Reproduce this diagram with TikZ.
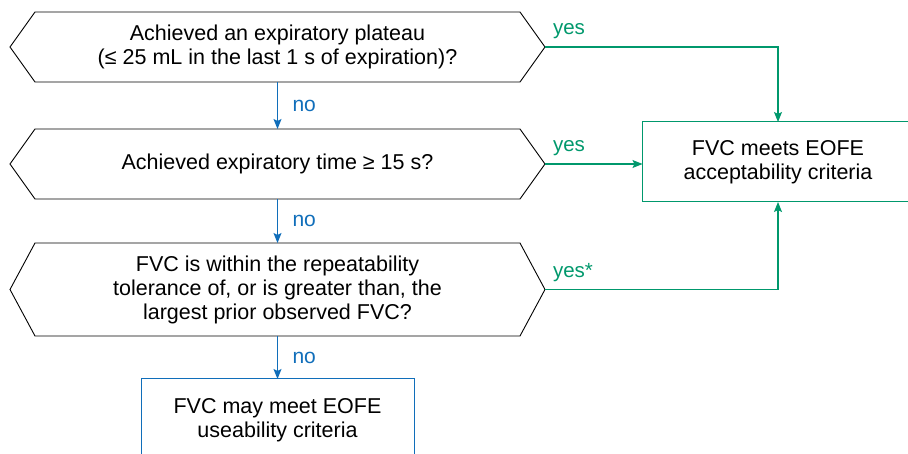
\documentclass[tikz,border=0pt]{standalone}
\usepackage{fontspec}
\setmainfont{Liberation Sans}
\usetikzlibrary{calc,arrows.meta}
\definecolor{yesgreen}{RGB}{0,152,108}
\definecolor{noblue}{RGB}{16,110,186}

\begin{document}
\begin{tikzpicture}[x=1pt,y=-1pt,inner sep=0pt,outer sep=0pt,
	txt/.style={align=center,font=\fontsize{21.5}{24}\selectfont},
	question/.style={txt,minimum width=535pt},
	result/.style={txt,draw,line width=1pt,minimum width=271pt,minimum height=80pt},
	yesarrow/.style={draw=yesgreen,line width=1.1pt,-{Stealth[length=10pt,width=8pt,inset=2pt]}},
	noarrow/.style={draw=noblue,line width=1.1pt,-{Stealth[length=10pt,width=8pt,inset=2pt]}},
	yeslabel/.style={anchor=south west,text=yesgreen,font=\fontsize{20.5}{24}\selectfont,xshift=8pt,yshift=8pt},
	nolabel/.style={anchor=west,text=noblue,font=\fontsize{21}{24}\selectfont,xshift=15pt}]
	\useasboundingbox (0,0) rectangle (908,454);
	\clip (0,0) rectangle (908,454);

	% questions
	\node[question,minimum height=70pt] (plateau) at (277.5,47) {Achieved an expiratory plateau\\(≤ 25 mL in the last 1 s of expiration)?};
	\node[question,minimum height=70pt] (time) at (277.5,164) {Achieved expiratory time ≥ 15 s?};
	\node[question,minimum height=93pt] (repeat) at (277.5,289.5) {FVC is within the repeatability\\tolerance of, or is greater than, the\\largest prior observed FVC?};
	\foreach \q in {plateau,time,repeat}
		\draw[line width=0.9pt] (\q.west) -- ($(\q.north west)+(25,0)$) -- ($(\q.north east)+(-25,0)$) -- (\q.east)
			-- ($(\q.south east)+(-25,0)$) -- ($(\q.south west)+(25,0)$) -- cycle;

	% outcomes
	\node[result,draw=yesgreen] (accept) at (778,162) {FVC meets EOFE\\acceptability criteria};
	\node[result,draw=noblue,minimum width=273pt,minimum height=82pt] (usable) at (277.5,420) {FVC may meet EOFE\\useability criteria};

	\draw[noarrow] (plateau) -- node[nolabel]{no} (time);
	\draw[noarrow] (time) -- node[nolabel]{no} (repeat);
	\draw[noarrow] (repeat) -- node[nolabel]{no} (usable);

	\draw[yesarrow] (plateau.east) node[yeslabel]{yes} -| (accept);
	\draw[yesarrow] (time.east) node[yeslabel]{yes} -- (time.east -| accept.west);
	\draw[yesarrow] (repeat.east) node[yeslabel]{yes*} -| (accept);
\end{tikzpicture}
\end{document}
